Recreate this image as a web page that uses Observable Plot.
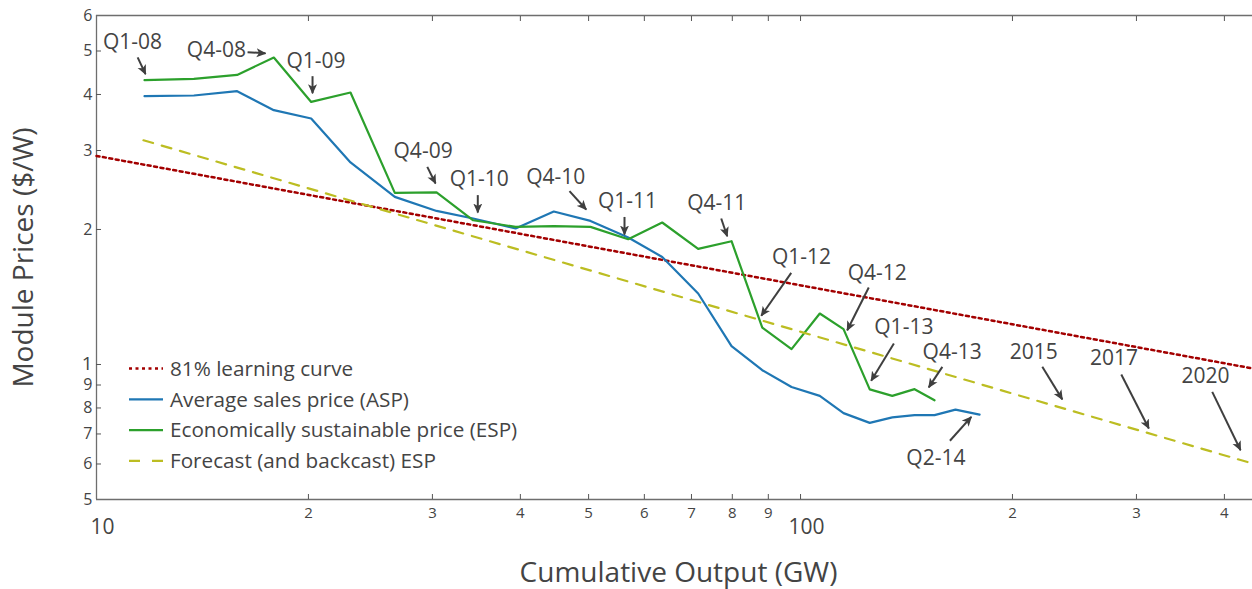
<!DOCTYPE html>
<html><head><meta charset="utf-8">
<script src="https://cdn.jsdelivr.net/npm/d3@7"></script>
<script src="https://cdn.jsdelivr.net/npm/@observablehq/plot@0.6"></script>
<style>
body{margin:0;background:#fff;}
#chart{position:relative;width:1252px;height:589px;}
</style>
</head><body><div id="chart"></div>
<script>
// ---- data ----
const quarters = ["Q1-08","Q2-08","Q3-08","Q4-08","Q1-09","Q2-09","Q3-09","Q4-09","Q1-10","Q2-10","Q3-10","Q4-10","Q1-11","Q2-11","Q3-11","Q4-11","Q1-12","Q2-12","Q3-12","Q4-12","Q1-13","Q2-13","Q3-13","Q4-13","Q1-14","Q2-14"];
const cumOutput = [11.70,13.75,15.84,17.86,20.18,22.95,26.53,30.41,34.28,39.38,44.62,50.31,56.92,63.61,71.55,79.80,88.24,97.10,106.5,115.1,125.4,135.0,145.2,155.0,166.0,179.6];
const aspPrice = [3.965,3.979,4.068,3.690,3.536,2.821,2.365,2.200,2.116,2.010,2.193,2.090,1.919,1.737,1.440,1.099,0.971,0.891,0.851,0.779,0.741,0.762,0.771,0.771,0.793,0.773];
const espPrice = [4.305,4.333,4.423,4.836,3.850,4.041,2.414,2.419,2.097,2.027,2.034,2.027,1.902,2.073,1.810,1.883,1.209,1.082,1.299,1.199,0.880,0.851,0.881,0.832];
const learningX = [10, 438.5];
const learningY = [2.918, 0.980];
const forecastX = [11.66, 438.5];
const forecastY = [3.162, 0.6015];

const seriesNames = ["81% learning curve","Average sales price (ASP)","Economically sustainable price (ESP)","Forecast (and backcast) ESP"];
const seriesColors = ["#a30000","#1f77b4","#2ca02c","#bcbd22"];
const seriesDash = ["3,3.5",null,null,"10,9"];

const xDomain = [10, 438.5];
const yDomain = [0.5, 6];
const xMinorTicks = [20,30,40,50,60,70,80,90,200,300,400];
const xMajorTicks = [10,100];
const yMinorTicks = [0.5,0.6,0.7,0.8,0.9,2,3,4,5,6];
const yMajorTicks = [1];

const annLabels = ["Q1-08","Q4-08","Q1-09","Q4-09","Q1-10","Q4-10","Q1-11","Q4-11","Q1-12","Q4-12","Q1-13","Q4-13","2015","2017","2020","Q2-14"];
const annTextX = [11.25,14.80,20.50,29.10,34.96,44.91,56.79,76.05,100.3,128.5,140.2,164.2,214.5,278.7,376.1,155.7];
const annTextY = [5.22,5.03,4.745,2.994,2.585,2.620,2.313,2.286,1.732,1.596,1.209,1.067,1.067,1.031,0.942,0.617];
const annTailX = [11.44,16.39,20.27,29.50,34.80,46.97,56.23,77.15,97.00,125.0,135.7,159.0,220.5,285.5,384.4,163.0];
const annTailY = [4.84,4.97,4.394,2.758,2.386,2.435,2.133,2.116,1.600,1.485,1.114,0.988,0.988,0.950,0.869,0.676];
const annHeadX = [11.74,17.38,20.27,30.31,34.80,49.61,56.23,78.68,87.95,116.5,126.0,152.1,235.4,312.4,421.7,174.8];
const annHeadY = [4.44,4.94,4.026,2.533,2.182,2.216,1.949,1.932,1.284,1.192,0.920,0.889,0.836,0.720,0.644,0.764];

// ---- chart ----
const txt = "#444";
const frameColor = "#6e6e6e";
const tickColor = "#555";
const digit = d => d3.format(".0e")(d)[0];
const allX = [...xMinorTicks, 100];
const allY = [0.6,0.7,0.8,0.9,1,2,3,4,5];

const chart = Plot.plot({
  width: 1252, height: 589,
  marginLeft: 96, marginRight: 0, marginTop: 15, marginBottom: 90,
  style: {fontFamily: "'Open Sans', sans-serif", color: txt, background: "#fff", overflow: "visible"},
  x: {type: "log", domain: xDomain},
  y: {type: "log", domain: yDomain},
  marks: [
    Plot.ruleX([xDomain[0]], {stroke: frameColor, strokeWidth: 1.3}),
    Plot.ruleY(yDomain, {stroke: frameColor, strokeWidth: 1.3}),
    Plot.axisX({anchor: "bottom", ticks: allX, tickSize: 5, dy: -5, tickFormat: () => "", stroke: tickColor, label: null}),
    Plot.axisX({anchor: "top", ticks: allX, tickSize: 5, dy: 5, tickFormat: () => "", stroke: tickColor, label: null}),
    Plot.axisY({anchor: "left", ticks: allY, tickSize: 5, dx: 5, tickFormat: () => "", stroke: tickColor, label: null}),
    Plot.text(xMinorTicks, {x: d => d, frameAnchor: "bottom", lineAnchor: "middle", textAnchor: "middle", dy: 14, text: digit, fontSize: 15, fill: txt}),
    Plot.text(xMajorTicks, {x: d => d, frameAnchor: "bottom", lineAnchor: "middle", textAnchor: "middle", dy: 27.5, dx: 6, text: d => String(d), fontSize: 21, fill: txt}),
    Plot.text(yMinorTicks, {y: d => d, frameAnchor: "left", lineAnchor: "middle", textAnchor: "end", dx: -4, text: digit, fontSize: 16, fill: txt}),
    Plot.text(yMajorTicks, {y: d => d, frameAnchor: "left", lineAnchor: "middle", textAnchor: "end", dx: -4, dy: -1, text: d => String(d), fontSize: 19, fill: txt}),
    Plot.line(learningX, {x: d => d, y: (d, i) => learningY[i], stroke: seriesColors[0], strokeWidth: 2.5, strokeDasharray: seriesDash[0]}),
    Plot.line(aspPrice, {x: (d, i) => cumOutput[i], y: d => d, stroke: seriesColors[1], strokeWidth: 2.2}),
    Plot.line(espPrice, {x: (d, i) => cumOutput[i], y: d => d, stroke: seriesColors[2], strokeWidth: 2.2}),
    Plot.line(forecastX, {x: d => d, y: (d, i) => forecastY[i], stroke: seriesColors[3], strokeWidth: 2.2, strokeDasharray: seriesDash[3]}),
    Plot.link(annLabels, {x1: (d, i) => annTailX[i], y1: (d, i) => annTailY[i], x2: (d, i) => annHeadX[i], y2: (d, i) => annHeadY[i], stroke: "#3f3f3f", strokeWidth: 2}),
    Plot.text(annLabels, {x: (d, i) => annTextX[i], y: (d, i) => annTextY[i], text: d => d, fontSize: 21, fill: txt}),
    Plot.text(["Module Prices ($/W)"], {frameAnchor: "left", textAnchor: "middle", lineAnchor: "middle", text: d => d, rotate: -90, dx: -72, fontSize: 28, fill: txt}),
    Plot.text(["Cumulative Output (GW)"], {frameAnchor: "bottom", textAnchor: "middle", lineAnchor: "middle", text: d => d, dy: 74, dx: 4, fontSize: 28, fill: txt})
  ]
});

document.getElementById("chart").appendChild(chart);

// filled arrowheads for annotation links
const svg = d3.select(chart);
svg.insert("defs", ":first-child").append("marker")
  .attr("id", "ah").attr("viewBox", "0 0 10 10").attr("refX", 9).attr("refY", 5)
  .attr("markerWidth", 10).attr("markerHeight", 10).attr("markerUnits", "userSpaceOnUse")
  .attr("orient", "auto")
  .append("path").attr("d", "M0,0.5L10,5L0,9.5L2.5,5Z").attr("fill", "#3f3f3f");
svg.selectAll('g[aria-label="link"] path').attr("marker-end", "url(#ah)");

// legend (inside the plot area, lower left)
const lg = svg.append("g").attr("font-family", "'Open Sans', sans-serif").attr("font-size", 20.7)
  .attr("fill", txt).attr("text-anchor", "start");
seriesNames.forEach((name, i) => {
  const y = 368.5 + i * 30.8;
  lg.append("line").attr("x1", 129).attr("x2", 163).attr("y1", y).attr("y2", y)
    .attr("stroke", seriesColors[i]).attr("stroke-width", i === 0 ? 2.5 : 2.2)
    .attr("stroke-dasharray", seriesDash[i] ? (i === 3 ? "11,12" : seriesDash[i]) : null);
  lg.append("text").attr("x", 170).attr("y", y).attr("dy", "0.35em").text(name);
});
</script>
</body></html>
